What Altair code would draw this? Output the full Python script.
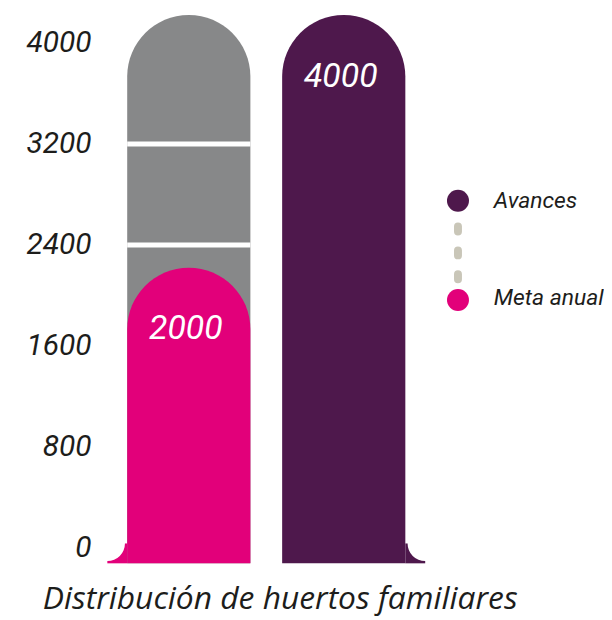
import altair as alt
import pandas as pd

# ---- data ----
categories = ["Meta anual", "Avances"]
values = [2000, 4000]
colors = ["#e2007a", "#4e184c"]
track_max = [4000]
track_breaks = [2400, 3200]
y_ticks = [0, 800, 1600, 2400, 3200, 4000]
legend_items = ["Avances", "Meta anual"]
title_text = "Distribución de huertos familiares"

GRAY = "#878889"
DASH = "#c9c6b8"
TEXT = "#1d1d1b"
NARROW = "Roboto"
TITLE_FONT = "Open Sans"

bars_df = pd.DataFrame({"cat": categories, "value": values})
track_df = pd.DataFrame({"cat": [categories[0]], "value": track_max})
breaks_df = pd.DataFrame({"cat": [categories[0]] * len(track_breaks), "brk": track_breaks})
ticks_df = pd.DataFrame({"tick": y_ticks})
left_df = pd.DataFrame({"cat": [categories[0]]})
right_df = pd.DataFrame({"cat": [categories[1]]})
title_df = pd.DataFrame({"t": [title_text]})

# ---- scales / encodings ----
x_scale = alt.Scale(domain=categories, range=[20, 300], paddingInner=0.205, paddingOuter=0)
y_scale = alt.Scale(domain=[0, 4000], range=[543, 34], nice=False)

x_no = alt.X("cat:N", scale=x_scale, axis=None)
color_enc = alt.Color("cat:N", scale=alt.Scale(domain=categories, range=colors), legend=None)

track = alt.Chart(track_df).mark_bar(
    color=GRAY, yOffset=-29, y2Offset=14, cornerRadiusTopLeft=62, cornerRadiusTopRight=62
).encode(x=x_no, y=alt.Y("value:Q", scale=y_scale, axis=None), y2=alt.datum(0))

seps = alt.Chart(breaks_df).mark_bar(color="white", yOffset=-3.5, y2Offset=1.5).encode(
    x=x_no, y=alt.Y("brk:Q", scale=y_scale, axis=None), y2="brk")

sq_left = alt.Chart(left_df).mark_bar(color=colors[0], width=20, xOffset=-72, yOffset=-6, y2Offset=14).encode(
    x=x_no, y=alt.YDatum(0, scale=y_scale, axis=None), y2=alt.datum(0))
sq_right = alt.Chart(right_df).mark_bar(color=colors[1], width=20, xOffset=72, yOffset=-6, y2Offset=14).encode(
    x=x_no, y=alt.YDatum(0, scale=y_scale, axis=None), y2=alt.datum(0))
c_left = alt.Chart(left_df).mark_circle(color="white", opacity=1, size=1257, xOffset=-82, yOffset=-6).encode(
    x=x_no, y=alt.YDatum(0, scale=y_scale, axis=None))
c_right = alt.Chart(right_df).mark_circle(color="white", opacity=1, size=1257, xOffset=82, yOffset=-6).encode(
    x=x_no, y=alt.YDatum(0, scale=y_scale, axis=None))

value_bars = alt.Chart(bars_df).mark_bar(
    yOffset=-29, y2Offset=14, cornerRadiusTopLeft=62, cornerRadiusTopRight=62
).encode(x=x_no, y=alt.Y("value:Q", scale=y_scale, axis=None), y2=alt.datum(0), color=color_enc)

labels = alt.Chart(bars_df).mark_text(
    dy=33, dx=-3, baseline="middle", font=NARROW, fontSize=34, fontStyle="italic", color="white"
).encode(x=x_no, y=alt.Y("value:Q", scale=y_scale, axis=None), text="value:Q")

# y-axis tick labels, placed through the y scale
tick_labels = alt.Chart(ticks_df).mark_text(
    align="right", baseline="middle", dy=-1, font=NARROW, fontSize=30, fontStyle="italic", color=TEXT
).encode(x=alt.value(-16), y=alt.Y("tick:Q", scale=y_scale, axis=None), text="tick:Q")

# bottom title
title = alt.Chart(title_df).mark_text(
    align="left", baseline="alphabetic", font=TITLE_FONT, fontSize=32, fontStyle="italic", color=TEXT
).encode(x=alt.value(-65), y=alt.value(603), text="t:N")

# ---- legend (drawn by hand, positions in pixels) ----
LEG_X = 353
LEG_Y = [192, 292]
legend_df = pd.DataFrame({"cat": legend_items})

conn = alt.Chart(legend_df.head(1)).mark_rule(
    color=DASH, strokeWidth=8, strokeCap="round", strokeDash=[5, 19]
).encode(x=alt.value(LEG_X), y=alt.value(LEG_Y[0] + 26), y2=alt.value(LEG_Y[1] - 21))

leg_dot_a = alt.Chart(legend_df.head(1)).mark_circle(opacity=1, size=490).encode(
    x=alt.value(LEG_X), y=alt.value(LEG_Y[0]), color=color_enc)
leg_dot_m = alt.Chart(legend_df.tail(1)).mark_circle(opacity=1, size=490).encode(
    x=alt.value(LEG_X), y=alt.value(LEG_Y[1]), color=color_enc)
leg_txt_a = alt.Chart(legend_df.head(1)).mark_text(
    align="left", baseline="alphabetic", dy=7, font=NARROW, fontSize=23, fontStyle="italic", color=TEXT
).encode(x=alt.value(389), y=alt.value(LEG_Y[0]), text="cat:N")
leg_txt_m = alt.Chart(legend_df.tail(1)).mark_text(
    align="left", baseline="alphabetic", dy=5, font=NARROW, fontSize=23, fontStyle="italic", color=TEXT
).encode(x=alt.value(389), y=alt.value(LEG_Y[1]), text="cat:N")

chart = alt.layer(
    track, seps, sq_left, sq_right, c_left, c_right, value_bars, labels,
    tick_labels, title,
    conn, leg_dot_a, leg_dot_m, leg_txt_a, leg_txt_m
).properties(
    width=500, height=557,
    padding={"left": 100, "top": 0, "right": 0, "bottom": 54},
    autosize=alt.AutoSizeParams(type="none"),
).configure(background="white").configure_view(stroke=None)

chart.save("out.html", embed_options={"renderer": "svg", "actions": False})
